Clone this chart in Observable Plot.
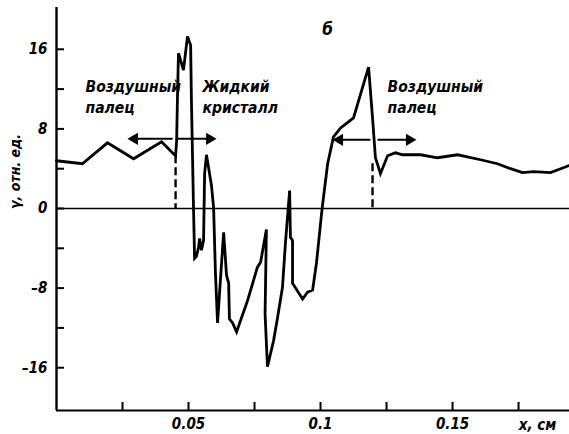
<!DOCTYPE html>
<html><head><meta charset="utf-8">
<script src="https://cdn.jsdelivr.net/npm/d3@7"></script>
<script src="https://cdn.jsdelivr.net/npm/@observablehq/plot@0.6"></script>
<style>
html,body{margin:0;padding:0;background:#fff;}
</style>
</head><body>
<div id="chart"></div>
<script>
// Profile x (cm) and gamma (arb. units)
const xs = [0,0.0098,0.0193,0.0292,0.0398,0.0439,0.0451,0.0455,0.0458,0.0462,0.0481,0.0496,0.0508,0.0511,0.0519,0.0523,0.0530,0.0538,0.0542,0.0549,0.0557,0.0561,0.0568,0.0587,0.0595,0.0602,0.0610,0.0633,0.0644,0.0652,0.0655,0.0667,0.0682,0.0723,0.0761,0.0773,0.0795,0.0790,0.0799,0.0822,0.0837,0.0856,0.0867,0.0883,0.0886,0.0894,0.0894,0.0932,0.0951,0.0970,0.0985,0.1004,0.1011,0.1027,0.1049,0.1076,0.1125,0.1182,0.1197,0.1208,0.1227,0.1254,0.1284,0.1311,0.1379,0.1443,0.1519,0.1606,0.1670,0.1720,0.1765,0.1807,0.1871,0.1920,0.1939];
const gammas = [4.8,4.5,6.6,5.0,6.7,5.6,5.3,6.8,10.9,15.6,13.9,17.3,16.4,10.9,0,-5.0,-4.8,-3.9,-3.0,-4.2,-3.2,3.5,5.4,2.3,0.1,-6.5,-11.5,-2.4,-6.7,-7.5,-11.1,-11.5,-12.4,-9.3,-5.9,-5.4,-2.1,-10.6,-15.9,-13.3,-11.0,-7.9,-3.5,1.8,-2.9,-3.2,-7.5,-9.1,-8.4,-8.2,-5.4,-0.5,1.1,4.5,7.2,8.1,9.1,14.2,9.1,5.1,3.5,5.3,5.6,5.4,5.4,5.1,5.4,4.9,4.5,4.0,3.6,3.7,3.6,4.1,4.3];

const yMinorTicks = [-16,-12,-8,-4,0,4,8,12,16];
const yLabelTicks = [-16,-8,0,8,16];
const xMinorTicks = [0.025,0.05,0.075,0.1,0.125,0.15,0.175];
const xLabelTicks = [0.05,0.1,0.15];

const noteX = [0.011,0.011,0.0553,0.0553,0.1254,0.1254];
const noteY = [11.66,9.55,11.66,9.55,11.66,9.55];
const noteText = ["Воздушный","палец","Жидкий","кристалл","Воздушный","палец"];

const boundaryX = [0.0451,0.1197];
const boundaryTop = [5.3,4.5];

const arrowFrom = [0.0440,0.0458,0.1189,0.1216];
const arrowTo = [0.0280,0.0595,0.1057,0.1352];
const arrowY = [7.0,7.0,6.9,6.9];

const xDomain = [0,0.1943];
const yDomain = [-20.3,20.2];

const profile = xs.map((x,i)=>({x, y: gammas[i]}));
const notes = noteText.map((t,i)=>({x: noteX[i], y: noteY[i], t}));
const bounds = boundaryX.map((x,i)=>({x, y1: boundaryTop[i], y2: 0}));
const arrows = arrowFrom.map((x1,i)=>({x1, x2: arrowTo[i], y: arrowY[i], dir: arrowTo[i] > x1 ? 1 : -1}));

const W = 569, H = 434, mL = 56, mR = 0, mT = 7, mB = 24;
const pw = W - mL - mR, ph = H - mT - mB;
const font = "'DejaVu Sans Condensed','DejaVu Sans',sans-serif";
const fmt = d => d < 0 ? "–" + (-d) : String(d);

const chart = Plot.plot({
  width: W, height: H,
  marginLeft: mL, marginRight: mR, marginTop: mT, marginBottom: mB,
  x: {domain: xDomain},
  y: {domain: yDomain},
  style: {fontFamily: font, fontSize: "15px", fontStyle: "italic", fontWeight: "bold", background: "#fff", color: "#000"},
  marks: [
    Plot.ruleY([0], {stroke: "#000", strokeWidth: 1.6}),
    Plot.ruleX([xDomain[0]], {stroke: "#000", strokeWidth: 2.4}),
    Plot.ruleY([yDomain[0]], {stroke: "#000", strokeWidth: 2.2}),
    Plot.tickY(yMinorTicks, {y: d => d, stroke: "#000", strokeWidth: 2, insetRight: pw - 8}),
    Plot.tickX(xMinorTicks, {x: d => d, stroke: "#000", strokeWidth: 2, insetTop: ph - 8}),
    Plot.axisY({ticks: yLabelTicks, tickSize: 0, tickPadding: 9, tickFormat: fmt, label: null, fontSize: 15}),
    Plot.axisX({ticks: xLabelTicks, tickSize: 0, tickPadding: 8, tickFormat: d => String(d), label: null, fontSize: 15}),
    Plot.text(["x, см"], {x: [0.1822], frameAnchor: "bottom", dy: 19, lineAnchor: "bottom", fontSize: 15}),
    Plot.text(["γ, отн. ед."], {frameAnchor: "left", dx: -41, rotate: -90, fontSize: 14}),
    Plot.ruleX(bounds, {x: "x", y1: "y1", y2: "y2", stroke: "#000", strokeWidth: 2.4, strokeDasharray: "8,4"}),
    Plot.link(arrows, {x1: "x1", x2: "x2", y1: "y", y2: "y", stroke: "#000", strokeWidth: 2}),
    Plot.dot(arrows.filter(a => a.dir > 0), {x: "x2", y: "y", symbol: "triangle", rotate: 90, r: 4.5, fill: "#000", dx: -4}),
    Plot.dot(arrows.filter(a => a.dir < 0), {x: "x2", y: "y", symbol: "triangle", rotate: -90, r: 4.5, fill: "#000", dx: 4}),
    Plot.line(profile, {x: "x", y: "y", stroke: "#000", strokeWidth: 2.8, strokeLinejoin: "miter", strokeMiterlimit: 3}),
    Plot.text(notes, {x: "x", y: "y", text: "t", textAnchor: "start", lineAnchor: "bottom", fontSize: 15.5}),
    Plot.text(["б"], {x: [0.1027], y: [17.4], lineAnchor: "bottom", fontSize: 17})
  ]
});
document.getElementById("chart").appendChild(chart);
</script>
</body></html>
